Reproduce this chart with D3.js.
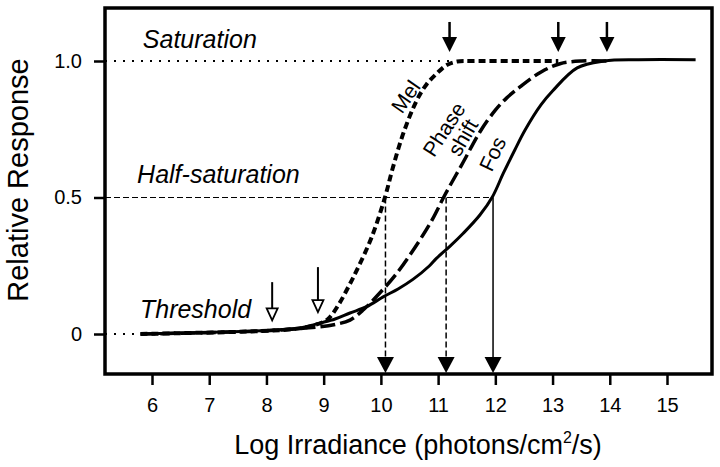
<!DOCTYPE html>
<html><head><meta charset="utf-8">
<script src="https://cdn.jsdelivr.net/npm/d3@7"></script>
<style>body{margin:0;background:#fff;} text{font-family:Arial,"Liberation Sans",sans-serif;fill:#000;}</style>
</head><body><svg id="c" width="720" height="467"></svg>
<script>
// ---- data ----
const xTicks = [6,7,8,9,10,11,12,13,14,15];
const yTicks = [0, 0.5, 1.0];
const yTickLabels = ["0", "0.5", "1.0"];
const mel = [[5.8,0.0],[6.5,0.003],[7.5,0.008],[8.3,0.015],[8.7,0.025],[9.0,0.045],[9.11,0.062],[9.28,0.114],[9.45,0.18],[9.58,0.234],[9.84,0.355],[10.07,0.5],[10.21,0.61],[10.4,0.74],[10.63,0.857],[10.8,0.915],[10.98,0.955],[11.15,0.985],[11.33,0.998],[11.6,1.0],[12.5,1.0],[13.1,1.0]];
const phase = [[5.8,0.0],[7,0.005],[8.0,0.012],[8.93,0.026],[9.2,0.035],[9.46,0.051],[9.7,0.09],[9.98,0.15],[10.28,0.223],[10.68,0.344],[10.9,0.42],[11.12,0.51],[11.44,0.63],[11.73,0.74],[12.0,0.82],[12.2,0.865],[12.43,0.905],[12.8,0.96],[13.13,0.99],[13.5,1.0],[14.0,1.0]];
const fos = [[5.8,0.0],[7,0.006],[8.0,0.013],[8.58,0.022],[8.93,0.04],[9.2,0.055],[9.46,0.077],[9.75,0.1],[10.04,0.136],[10.3,0.165],[10.56,0.2],[10.85,0.25],[10.97,0.277],[11.2,0.32],[11.44,0.369],[11.73,0.436],[11.95,0.503],[12.14,0.589],[12.34,0.674],[12.52,0.747],[12.8,0.84],[13.0,0.89],[13.43,0.975],[13.9,1.0],[14.5,1.005],[15.5,1.005]];
const halfX = [10.08, 11.14, 11.96];          // half-saturation points: Mel, Phase shift, Fos
const halfDash = ["6,3", "6,3", null];
const satArrowX = [11.2, 13.1, 13.95];         // saturation arrows
const threshArrowX = [8.1, 8.9];               // threshold arrows
const threshArrowTop = [0.19, 0.245];
const threshArrowTip = [0.05, 0.08];
const curveLabels = [
  {t:"Mel", x:10.43, y:0.87, a:-55},
  {t:"Phase", x:11.1, y:0.75, a:-57},
  {t:"shift", x:11.43, y:0.72, a:-60},
  {t:"Fos", x:11.95, y:0.66, a:-65}
];
const refLines = [
  {label:"Saturation", v:1.0, dash:"2,7", w:2, end:11.3, lx:5.84, ly:1.048},
  {label:"Half-saturation", v:0.5, dash:"6,3", w:1.2, end:11.96, lx:5.74, ly:0.553},
  {label:"Threshold", v:0.0, dash:"2,7", w:2, end:5.8, lx:5.79, ly:0.059}
];

// ---- layout ----
const svg = d3.select("#c");
const frame = {l:105, t:8, r:712, b:374};
const x = d3.scaleLinear().domain([6,15]).range([152,667]);
const y = d3.scaleLinear().domain([0,1]).range([334,61]);

// reference lines
refLines.forEach(r => {
  svg.append("line").attr("x1", frame.l).attr("x2", x(r.end)).attr("y1", y(r.v)).attr("y2", y(r.v))
    .attr("stroke","#000").attr("stroke-width", r.w).attr("stroke-dasharray", r.dash);
  svg.append("text").attr("x", x(r.lx)).attr("y", y(r.ly)).attr("font-size", 25)
    .attr("font-style","italic").text(r.label);
});

// drop lines + filled arrowheads at bottom
halfX.forEach((hx,i) => {
  svg.append("line").attr("x1", x(hx)).attr("x2", x(hx)).attr("y1", y(0.5)).attr("y2", frame.b - 10)
    .attr("stroke","#000").attr("stroke-width",1.5).attr("stroke-dasharray", halfDash[i]);
  const cx = x(hx), tip = frame.b - 1;
  svg.append("path").attr("d", `M${cx-8.5},${tip-16}L${cx+8.5},${tip-16}L${cx},${tip}Z`).attr("fill","#000");
});

// saturation arrows
satArrowX.forEach(ax => {
  const cx = x(ax), top = y(1.143), tip = y(1.033);
  svg.append("line").attr("x1",cx).attr("x2",cx).attr("y1",top).attr("y2",tip-10)
    .attr("stroke","#000").attr("stroke-width",2.5);
  svg.append("path").attr("d", `M${cx-7.5},${tip-15}L${cx+7.5},${tip-15}L${cx},${tip}Z`).attr("fill","#000");
});

// threshold arrows (open heads)
threshArrowX.forEach((ax,i) => {
  const cx = x(ax), top = y(threshArrowTop[i]), tip = y(threshArrowTip[i]);
  svg.append("line").attr("x1",cx).attr("x2",cx).attr("y1",top).attr("y2",tip-12)
    .attr("stroke","#000").attr("stroke-width",2);
  svg.append("path").attr("d", `M${cx-5.5},${tip-12}L${cx+5.5},${tip-12}L${cx},${tip}Z`)
    .attr("fill","#fff").attr("stroke","#000").attr("stroke-width",1.8).attr("stroke-linejoin","miter");
});

// curves
const line = d3.line().x(d=>x(d[0])).y(d=>y(d[1])).curve(d3.curveCatmullRom.alpha(0.5));
svg.append("path").attr("d", line(fos)).attr("fill","none").attr("stroke","#000").attr("stroke-width",3);
svg.append("path").attr("d", line(phase)).attr("fill","none").attr("stroke","#000").attr("stroke-width",3.5).attr("stroke-dasharray","15,5");
svg.append("path").attr("d", line(mel)).attr("fill","none").attr("stroke","#000").attr("stroke-width",4).attr("stroke-dasharray","7,4");

// curve labels
curveLabels.forEach(c => {
  svg.append("text").attr("transform", `translate(${x(c.x)},${y(c.y)}) rotate(${c.a})`)
    .attr("text-anchor","middle").attr("dominant-baseline","central").attr("font-size",21).text(c.t);
});

// frame
svg.append("rect").attr("x",frame.l).attr("y",frame.t).attr("width",frame.r-frame.l).attr("height",frame.b-frame.t)
  .attr("fill","none").attr("stroke","#000").attr("stroke-width",3.5);

// x axis
const xAxis = svg.append("g").attr("transform",`translate(0,${frame.b})`)
  .call(d3.axisBottom(x).tickValues(xTicks).tickSize(11).tickPadding(13).tickFormat(d3.format("d")));
xAxis.select(".domain").remove();
xAxis.selectAll(".tick line").attr("stroke","#000").attr("stroke-width",2.5);
xAxis.selectAll(".tick text").attr("font-size",20).attr("font-family",'Arial,"Liberation Sans",sans-serif');

// y axis
const yAxis = svg.append("g").attr("transform",`translate(${frame.l},0)`)
  .call(d3.axisLeft(y).tickValues(yTicks).tickSize(11).tickPadding(12).tickFormat((d,i)=>yTickLabels[i]));
yAxis.select(".domain").remove();
yAxis.selectAll(".tick line").attr("stroke","#000").attr("stroke-width",2.5);
yAxis.selectAll(".tick text").attr("font-size",20).attr("font-family",'Arial,"Liberation Sans",sans-serif');

// axis titles
const xt = svg.append("text").attr("x", 418).attr("y", 454).attr("text-anchor","middle").attr("font-size",27);
xt.append("tspan").text("Log Irradiance (photons/cm");
xt.append("tspan").attr("font-size",16).attr("dy",-11).text("2");
xt.append("tspan").attr("dy",11).text("/s)");
svg.append("text").attr("transform","translate(28,180) rotate(-90)").attr("text-anchor","middle").attr("font-size",29).text("Relative Response");
</script></body></html>
